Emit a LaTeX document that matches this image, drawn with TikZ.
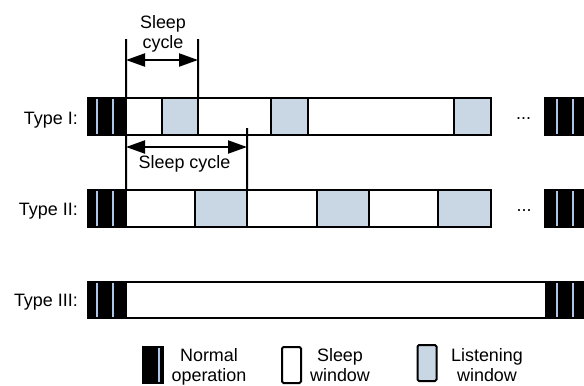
\documentclass[tikz,border=0pt]{standalone}
\usepackage{fontspec}
\setmainfont{Liberation Sans}
\usetikzlibrary{arrows.meta}
\definecolor{listenblue}{RGB}{201,214,228}
\definecolor{oplineblue}{RGB}{172,198,232}
\tikzset{
  seg/.style={draw=black, line width=2bp, inner sep=0pt, outer sep=0pt, minimum height=37bp},
  sleepwin/.style={seg, fill=white},
  listenwin/.style={seg, fill=listenblue},
  normalop/.style={seg, fill=black,
    path picture={\foreach \d in {#1}
      \draw[oplineblue, line width=1.6bp]
        ([xshift=\d bp]path picture bounding box.south west) --
        ([xshift=\d bp]path picture bounding box.north west);}},
  normalop/.default={9,25},
  lbl/.style={font=\fontsize{18}{20}\selectfont, inner sep=0pt},
  twoline/.style={lbl, align=center},
  guide/.style={line width=2bp},
  span/.style={line width=2bp, {Triangle[length=19bp,width=13bp]}-{Triangle[length=19bp,width=13bp]}},
}
\begin{document}
\begin{tikzpicture}[x=1bp, y=-1bp]
\useasboundingbox (0,0) rectangle (584,385);

% Type I: listening windows of fixed length, doubling sleep windows
\node[lbl, anchor=base east] (lab1) at (78,124) {Type I:};
\node[normalop, minimum width=38bp] (t1n) at (107,116.5) {};
\node[sleepwin, minimum width=36bp] (t1s1) at (144,116.5) {};
\node[listenwin, minimum width=36bp] (t1l1) at (180,116.5) {};
\node[sleepwin, minimum width=73bp] (t1s2) at (234.5,116.5) {};
\node[listenwin, minimum width=37bp] (t1l2) at (289.5,116.5) {};
\node[sleepwin, minimum width=146bp] (t1s3) at (381,116.5) {};
\node[listenwin, minimum width=37bp] (t1l3) at (472.5,116.5) {};
\node[lbl, anchor=base] (t1dots) at (523.5,119) {...};
\node[normalop={12,28}, minimum width=38bp] (t1e) at (564,116.5) {};

% Type II: constant sleep and listening windows
\node[lbl, anchor=base east] (lab2) at (78,215.5) {Type II:};
\node[normalop, minimum width=38bp] (t2n) at (107,208.5) {};
\node[sleepwin, minimum width=69bp] (t2s1) at (160.5,208.5) {};
\node[listenwin, minimum width=52bp] (t2l1) at (221,208.5) {};
\node[sleepwin, minimum width=70bp] (t2s2) at (282,208.5) {};
\node[listenwin, minimum width=52bp] (t2l2) at (343,208.5) {};
\node[sleepwin, minimum width=69bp] (t2s3) at (403.5,208.5) {};
\node[listenwin, minimum width=53bp] (t2l3) at (464.5,208.5) {};
\node[lbl, anchor=base] (t2dots) at (524,211) {...};
\node[normalop={12,28}, minimum width=38bp] (t2e) at (564,208.5) {};

% Type III: one long sleep window
\node[lbl, anchor=base east] (lab3) at (78,306.5) {Type III:};
\node[normalop, minimum width=38bp, minimum height=36bp] (t3n) at (107,300) {};
\node[sleepwin, minimum width=420bp, minimum height=36bp] (t3s) at (336,300) {};
\node[normalop={11,27}, minimum width=37bp, minimum height=36bp] (t3e) at (564.5,300) {};

% sleep cycle markers
\coordinate (g1top) at (126,39);
\coordinate (g2top) at (198,39);
\coordinate (g3top) at (247,128);
\draw[guide] (g1top) -- (t1s1.north west);
\draw[guide] (t1s1.south west) -- (t2s1.north west);
\draw[guide] (g2top) -- (t1l1.north east);
\draw[guide] (g3top) -- (t2l1.north east);

\coordinate (a1l) at (126,60);
\coordinate (a1r) at (198,60);
\draw[span] (a1l) -- (a1r);
\node[twoline] (c1) at (163,33.5) {Sleep\\cycle};

\coordinate (a2l) at (126,147);
\coordinate (a2r) at (247,147);
\draw[span] (a2l) -- (a2r);
\node[lbl, anchor=base] (c2) at (184.5,168) {Sleep cycle};

% legend
\node[normalop={16}, minimum width=20bp, minimum height=36bp] (k1) at (153,365) {};
\node[twoline] (k1t) at (209,366.5) {Normal\\operation};
\node[sleepwin, minimum width=19bp, minimum height=36bp, rounded corners=1.5bp] (k2) at (291.5,365) {};
\node[twoline] (k2t) at (340,365.5) {Sleep\\window};
\node[listenwin, minimum width=19bp, minimum height=36bp, rounded corners=1.5bp] (k3) at (427,363) {};
\node[twoline] (k3t) at (487,365.5) {Listening\\window};
\end{tikzpicture}
\end{document}
